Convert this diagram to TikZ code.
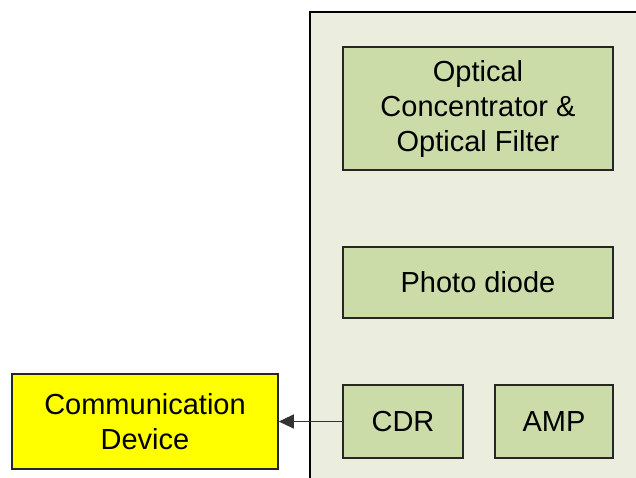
\documentclass[tikz,border=0pt]{standalone}
\usepackage{fontspec}
\setmainfont{Liberation Sans}
\usetikzlibrary{arrows.meta}
\definecolor{panelfill}{HTML}{EBEEDE}
\definecolor{blockfill}{HTML}{CCDCA9}
\definecolor{devfill}{HTML}{FFFF00}
\begin{document}
\begin{tikzpicture}[x=1pt,y=-1pt,
  blk/.style={draw=black!85,line width=1.6pt,fill=blockfill,inner sep=0pt,
    font=\fontsize{29}{35}\selectfont,align=center},
  link/.style={draw=black!80,line width=1.2pt,-{Triangle[length=15pt,width=14pt]}}]
\useasboundingbox (0,0) rectangle (636,477);
% enclosing receiver panel, open to the right and bottom
\fill[panelfill] (310,12) rectangle (640,480);
\draw[line width=2pt] (310,480) -- (310,12) -- (640,12);
% blocks
\node[blk,minimum width=270pt,minimum height=123pt] (conc) at (478,108.5)
  {Optical\\Concentrator \&\\Optical Filter};
\node[blk,minimum width=270pt,minimum height=71pt] (pd) at (478,282.5) {Photo diode};
\node[blk,minimum width=120pt,minimum height=73pt] (cdr) at (403,421.5) {CDR};
\node[blk,minimum width=118pt,minimum height=73pt] (amp) at (554,421.5) {AMP};
\node[blk,fill=devfill,minimum width=266pt,minimum height=95pt] (dev) at (145,421.5)
  {Communication\\Device};
\draw[link] (cdr.west) -- (dev.east);
\end{tikzpicture}
\end{document}
